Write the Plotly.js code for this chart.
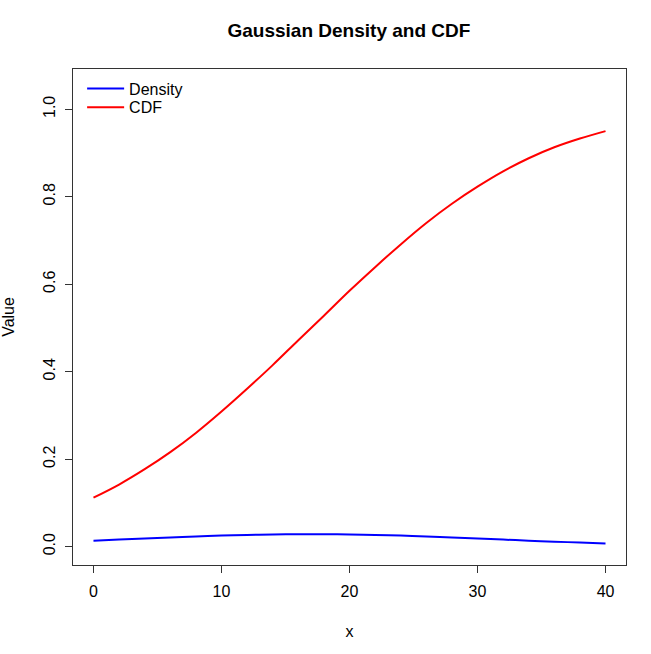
<!DOCTYPE html>
<html><head><meta charset="utf-8">
<script src="https://cdn.plot.ly/plotly-3.0.1.min.js"></script>
<style>body{margin:0;background:#fff}#chart{width:651px;height:654px}</style>
</head><body><div id="chart"></div>
<script>
const xVals = [0,2,4,6,8,10,12,14,16,18,20,22,24,26,28,30,32,34,36,38,40];
const densityVals = [0.0136,0.0161,0.0185,0.0209,0.0232,0.0252,0.0267,0.0279,0.0284,0.0284,0.0279,0.0267,0.0252,0.0232,0.0209,0.0185,0.0161,0.0136,0.0114,0.0093,0.0074];
const cdfVals = [0.112,0.142,0.177,0.216,0.260,0.309,0.361,0.415,0.472,0.528,0.585,0.639,0.691,0.740,0.784,0.823,0.858,0.888,0.913,0.933,0.950];
const xTicks = [0,10,20,30,40];
const yTicks = [0,0.2,0.4,0.6,0.8,1.0];
const yTickLabels = ["0.0","0.2","0.4","0.6","0.8","1.0"];

const font = {family:"Liberation Sans, Arial, sans-serif", size:16, color:"#000"};
const data = [
  {x:xVals, y:densityVals, type:"scatter", mode:"lines", name:"Density", legend:"legend", line:{color:"#0000ff", width:2, shape:"spline"}},
  {x:xVals, y:cdfVals, type:"scatter", mode:"lines", name:"CDF", legend:"legend2", line:{color:"#ff0000", width:2, shape:"spline"}}
];
const legendBase = {xanchor:"left", yanchor:"top", bgcolor:"rgba(0,0,0,0)", borderwidth:0, font:font, itemwidth:37};
const layout = {
  width:651, height:654,
  margin:{l:73, r:25, t:69, b:89},
  paper_bgcolor:"#fff", plot_bgcolor:"#fff",
  font:font,
  title:{text:"<b>Gaussian Density and CDF</b>", font:{family:"Liberation Sans, Arial, sans-serif", size:19, color:"#000"}, x:0.536, xanchor:"center", y:0.953, yanchor:"middle"},
  xaxis:{range:[-1.6,41.6], tickvals:xTicks, ticktext:xTicks.map(String), ticks:"outside", ticklen:7, tickwidth:1, tickcolor:"#333",
    showline:true, mirror:true, linecolor:"#333", linewidth:1, showgrid:false, zeroline:false, ticklabelstandoff:5,
    title:{text:"x", font:font, standoff:26}, tickfont:font},
  yaxis:{range:[-0.042,1.092], tickvals:yTicks, ticktext:yTickLabels, tickangle:-90, ticks:"outside", ticklen:7, tickwidth:1, tickcolor:"#333",
    showline:true, mirror:true, linecolor:"#333", linewidth:1, showgrid:false, zeroline:false, ticklabelstandoff:4,
    title:{text:"Value", font:font, standoff:22}, tickfont:font},
  legend:Object.assign({x:0.0165, y:0.995}, legendBase),
  legend2:Object.assign({x:0.0165, y:0.957}, legendBase),
  showlegend:true
};
Plotly.newPlot("chart", data, layout, {displayModeBar:false, staticPlot:true});
</script></body></html>
